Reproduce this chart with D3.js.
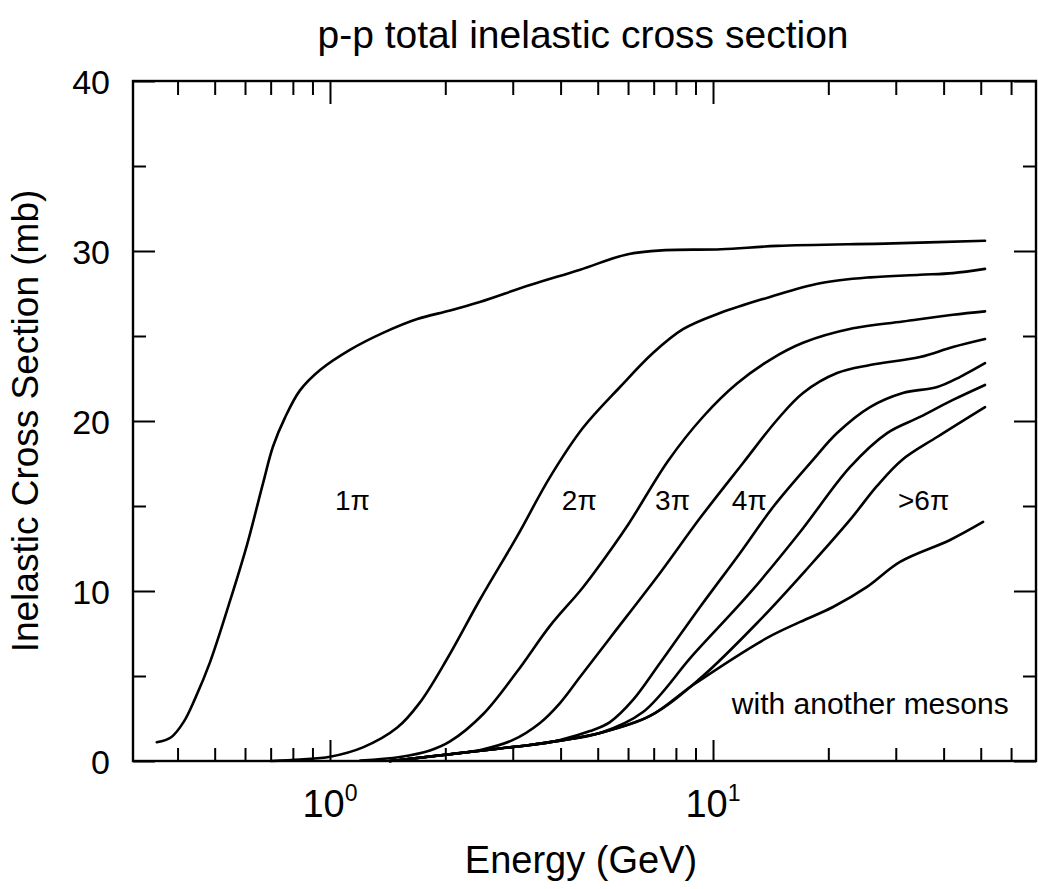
<!DOCTYPE html>
<html><head><meta charset="utf-8">
<script src="https://cdn.jsdelivr.net/npm/d3@7"></script>
<style>
body{margin:0;background:#fff}
svg text{font-family:"Liberation Sans",Arial,Helvetica,sans-serif;fill:#000}
</style>
</head><body>
<svg id="chart" width="1038" height="889"></svg>
<script>
// ---------- data (energy in GeV, cross section in mb) ----------
const titleText = "p-p total inelastic cross section";
const xAxisTitle = "Energy (GeV)";
const yAxisTitle = "Inelastic Cross Section (mb)";
const energyDomain = [0.306, 69.7];
const sigmaDomain = [0, 40];
const yMajorTicks = [0, 10, 20, 30, 40];
const yMinorTicks = [5, 15, 25, 35];
const xMajorTicks = [1, 10];
const xMajorExponents = ["0", "1"];
const xMinorTicks = [0.4,0.5,0.6,0.7,0.8,0.9,2,3,4,5,6,7,8,9,20,30,40,50,60];

const pi1 = [[0.353,1.1],[0.385,1.4],[0.415,2.3],[0.445,3.7],[0.486,5.8],[0.548,9.4],[0.607,12.7],[0.668,16.3],[0.710,18.5],[0.763,20.2],[0.835,21.8],[0.942,23.0],[1.13,24.2],[1.38,25.2],[1.69,26.0],[2.06,26.5],[2.46,27.0],[3.33,28.0],[4.50,28.9],[5.96,29.8],[7.5,30.05],[10.5,30.1],[14.7,30.3],[29.5,30.45],[51.3,30.6]];
const pi2 = [[0.70,0],[0.835,0.09],[1.0,0.25],[1.219,0.8],[1.496,1.95],[1.718,3.45],[2.021,6.0],[2.464,9.5],[3.077,13.2],[3.753,16.7],[4.577,19.6],[5.717,22.0],[6.97,24.0],[8.35,25.4],[10.43,26.35],[14.09,27.3],[19.03,28.1],[25.7,28.45],[34.7,28.6],[42.3,28.7],[51.3,28.95]];
const pi3 = [[1.2,0.03],[1.523,0.24],[1.824,0.62],[2.058,1.15],[2.509,2.75],[3.077,5.25],[3.753,7.95],[4.495,10.0],[4.92,11.15],[6.0,13.9],[7.63,17.65],[9.42,20.25],[11.55,22.2],[14.09,23.6],[17.18,24.6],[23.2,25.45],[31.3,25.85],[42.3,26.25],[51.3,26.45]];
const pi4 = [[1.434,0],[1.523,0.06],[2.058,0.4],[2.5,0.68],[3.005,1.24],[3.534,2.24],[3.986,3.41],[4.495,4.94],[5.384,7.24],[7.272,11.06],[9.249,14.29],[11.98,17.53],[14.69,20.06],[17.18,21.65],[21.08,22.82],[25.7,23.29],[34.7,23.76],[42.3,24.35],[51.3,24.82]];
const pi5 = [[1.434,0],[1.523,0.06],[2.058,0.4],[2.779,0.74],[3.328,0.94],[3.986,1.24],[4.774,1.76],[5.384,2.29],[6.182,3.59],[7.272,5.76],[9.249,9.06],[11.77,12.24],[14.35,14.94],[18.24,17.71],[21.08,19.29],[25.7,20.82],[31.3,21.65],[38.5,22.0],[44.2,22.6],[51.3,23.4]];
const pi6 = [[1.434,0],[1.523,0.06],[2.058,0.4],[2.779,0.74],[3.328,0.94],[3.986,1.2],[5.071,1.65],[6.565,2.88],[8.868,6.24],[12.5,9.9],[16.88,13.47],[22.78,17.29],[28.48,19.29],[34.7,20.24],[42.3,21.24],[51.3,22.12]];
const pi7 = [[1.434,0],[1.523,0.06],[2.058,0.4],[2.779,0.74],[3.328,0.94],[3.986,1.2],[5.071,1.65],[6.846,2.65],[9.249,4.85],[13.27,8.3],[17.92,11.5],[22.78,14.18],[26.81,16.18],[31.15,17.71],[38.46,19.06],[51.3,20.82]];
const otherMesons = [[1.434,0],[1.523,0.06],[2.058,0.4],[2.779,0.74],[3.328,0.94],[3.986,1.2],[5.071,1.65],[6.846,2.65],[8.868,4.47],[13.84,7.24],[16.88,8.18],[20.57,9.06],[25.24,10.24],[30.77,11.71],[41.58,13.0],[50.7,14.06]];
const seriesList = [pi1, pi2, pi3, pi4, pi5, pi6, pi7, otherMesons];

// curve labels: [text, energy, sigma at baseline, font size]
const curveLabels = [
  ["1\u03c0", 1.03, 14.76, 28],
  ["2\u03c0", 4.03, 14.76, 28],
  ["3\u03c0", 7.06, 14.76, 28],
  ["4\u03c0", 11.2, 14.76, 28],
  [">6\u03c0", 30.4, 14.76, 28],
  ["with another mesons", 11.2, 2.76, 30]
];

// ---------- drawing ----------
const svg = d3.select("#chart");
const x = d3.scaleLog().domain(energyDomain).range([133, 1036]);
const y = d3.scaleLinear().domain(sigmaDomain).range([761, 81]);
const [x0, x1] = x.range();
const [yb, yt] = y.range();

function styleAxis(g, withText) {
  g.select(".domain").remove();
  g.selectAll(".tick line").attr("stroke", "#000").attr("stroke-width", 2);
  if (!withText) g.selectAll(".tick text").remove();
}

// left
svg.append("g").attr("transform", `translate(${x0},0)`)
  .call(d3.axisLeft(y).tickValues(yMajorTicks).tickSize(-22).tickPadding(23).tickFormat(d3.format("d")))
  .call(g => { styleAxis(g, true);
    g.selectAll(".tick text").attr("font-size", 34).attr("font-family", "Liberation Sans, Arial, sans-serif").attr("dy", "0.36em"); });
svg.append("g").attr("transform", `translate(${x0},0)`)
  .call(d3.axisLeft(y).tickValues(yMinorTicks).tickSize(-13).tickFormat(""))
  .call(g => styleAxis(g, false));
// right
svg.append("g").attr("transform", `translate(${x1},0)`)
  .call(d3.axisRight(y).tickValues(yMajorTicks).tickSize(-22).tickFormat(""))
  .call(g => styleAxis(g, false));
svg.append("g").attr("transform", `translate(${x1},0)`)
  .call(d3.axisRight(y).tickValues(yMinorTicks).tickSize(-13).tickFormat(""))
  .call(g => styleAxis(g, false));
// bottom
svg.append("g").attr("transform", `translate(0,${yb})`)
  .call(d3.axisBottom(x).tickValues(xMajorTicks).tickSize(-21).tickFormat(""))
  .call(g => styleAxis(g, false));
svg.append("g").attr("transform", `translate(0,${yb})`)
  .call(d3.axisBottom(x).tickValues(xMinorTicks).tickSize(-13).tickFormat(""))
  .call(g => styleAxis(g, false));
// top
svg.append("g").attr("transform", `translate(0,${yt})`)
  .call(d3.axisTop(x).tickValues(xMajorTicks).tickSize(-23).tickFormat(""))
  .call(g => styleAxis(g, false));
svg.append("g").attr("transform", `translate(0,${yt})`)
  .call(d3.axisTop(x).tickValues(xMinorTicks).tickSize(-14).tickFormat(""))
  .call(g => styleAxis(g, false));

// frame
svg.append("rect").attr("x", x0).attr("y", yt).attr("width", x1 - x0).attr("height", yb - yt)
  .attr("fill", "none").attr("stroke", "#000").attr("stroke-width", 2.4);

// x tick labels with exponents
xMajorTicks.forEach((d, i) => {
  const t = svg.append("text").attr("x", x(d)).attr("y", yb + 56).attr("text-anchor", "middle").attr("font-size", 38);
  t.append("tspan").text("10");
  t.append("tspan").attr("font-size", 23).attr("dy", -16).text(xMajorExponents[i]);
});

// curves
const line = d3.line().x(d => x(d[0])).y(d => y(d[1])).curve(d3.curveCatmullRom.alpha(0.5));
svg.append("g").selectAll("path").data(seriesList).join("path")
  .attr("d", line).attr("fill", "none").attr("stroke", "#000").attr("stroke-width", 2.6)
  .attr("stroke-linejoin", "round").attr("stroke-linecap", "round");

// curve labels
svg.append("g").selectAll("text").data(curveLabels).join("text")
  .attr("x", d => x(d[1])).attr("y", d => y(d[2])).attr("font-size", d => d[3]).text(d => d[0]);

// titles
svg.append("text").attr("x", 583).attr("y", 48).attr("text-anchor", "middle").attr("font-size", 39).text(titleText);
svg.append("text").attr("x", 581).attr("y", 873).attr("text-anchor", "middle").attr("font-size", 38).text(xAxisTitle);
svg.append("text").attr("transform", "translate(38,421) rotate(-90)").attr("text-anchor", "middle").attr("font-size", 37).text(yAxisTitle);
</script>
</body></html>
